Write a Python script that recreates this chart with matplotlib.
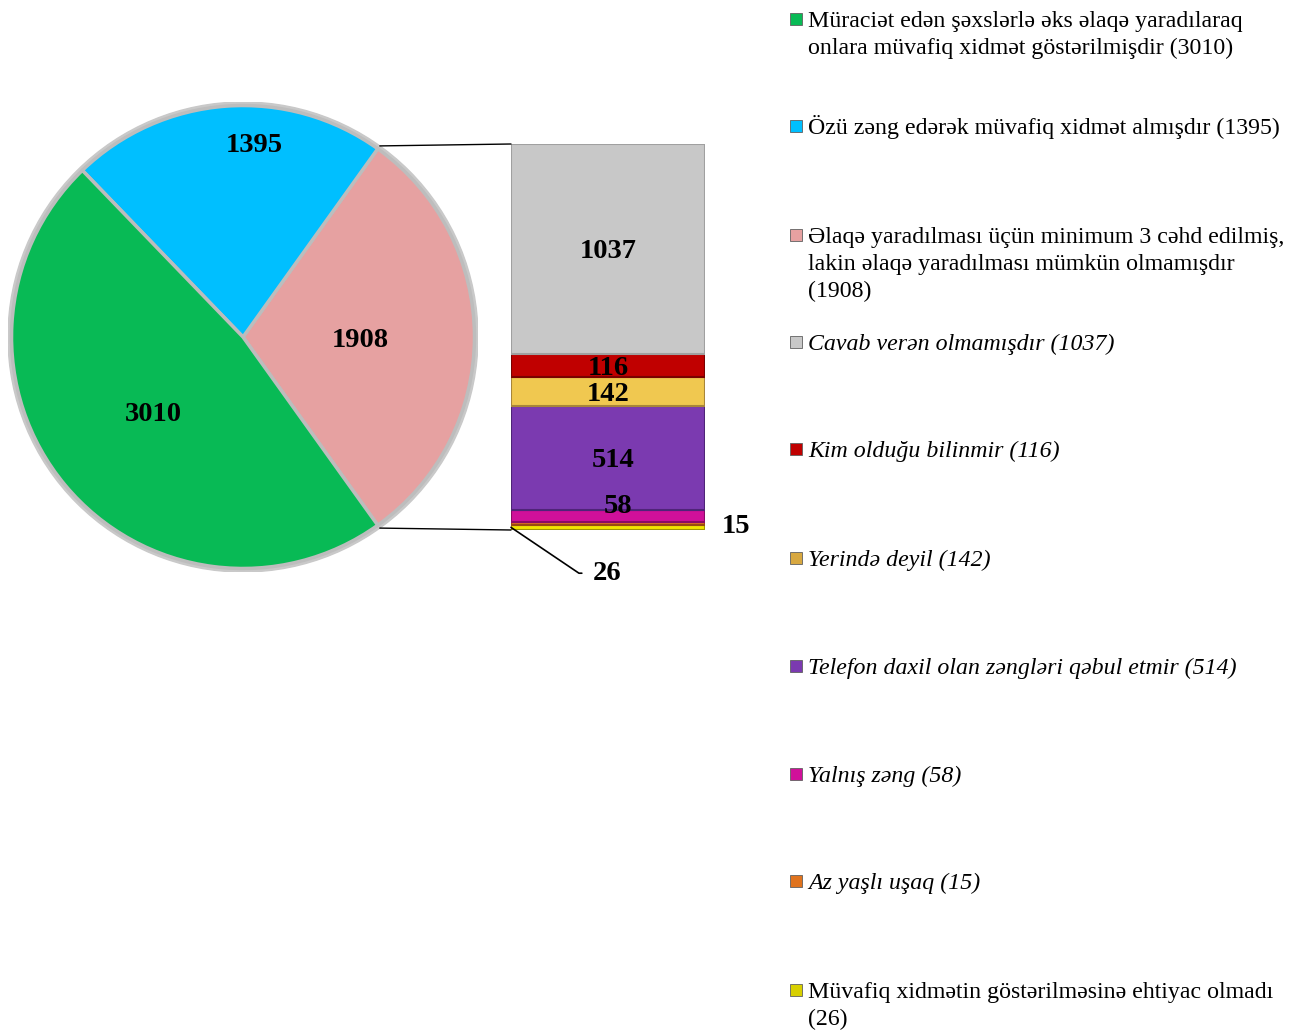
import numpy as np
import matplotlib.pyplot as plt
from matplotlib.patches import ConnectionPatch, Rectangle, Circle

W, H = 1302, 1031
SERIF = ['Liberation Serif', 'DejaVu Serif']

# main pie: the pink slice is split out into the bar
pie_values = [1908, 1395, 3010]
pie_colors = ['#E6A1A1', '#00BFFF', '#08BA55']
pie_label_pos = [(0.50, -0.013), (0.05, 0.815), (-0.38, -0.33)]

# bar breakdown of 1908, listed bottom to top
bar_values = [26, 15, 58, 514, 142, 116, 1037]
bar_colors = ['#F2E600', '#E0731E', '#D0109A', '#7B3AB0', '#F0C850', '#C00000', '#C8C8C8']
bar_edges = ['#A09800', '#9A4A10', '#8A0A66', '#4F2478', '#A8863A', '#7A0000', '#A0A0A0']

legend_labels = [
    'Müraciət edən şəxslərlə əks əlaqə yaradılaraq\nonlara müvafiq xidmət göstərilmişdir (3010)',
    'Özü zəng edərək müvafiq xidmət almışdır (1395)',
    'Əlaqə yaradılması üçün minimum 3 cəhd edilmiş,\nlakin əlaqə yaradılması mümkün olmamışdır\n(1908)',
    'Cavab verən olmamışdır (1037)',
    'Kim olduğu bilinmir (116)',
    'Yerində deyil (142)',
    'Telefon daxil olan zəngləri qəbul etmir (514)',
    'Yalnış zəng (58)',
    'Az yaşlı uşaq (15)',
    'Müvafiq xidmətin göstərilməsinə ehtiyac olmadı\n(26)',
]
legend_italic = [False, False, False, True, True, True, True, True, True, False]
legend_colors = ['#08BA55', '#00BFFF', '#E6A1A1', '#C8C8C8', '#C00000',
                 '#D8A840', '#7B3AB0', '#D0109A', '#E0731E', '#D8D000']
legend_y = [19, 126, 235, 342, 449, 558, 666, 774, 881, 990]


def fx(px):
    return px / W


def fy(py):
    return 1 - py / H


fig = plt.figure(figsize=(W / 100, H / 100), dpi=100)

# pie axes
cx, cy, r = 243, 337, 235
ax_pie = fig.add_axes([fx(cx - r), fy(cy + r), 2 * r / W, 2 * r / H])
total = sum(pie_values)
start = -0.5 * pie_values[0] / total * 360
ax_pie.add_patch(Circle((0, 0), 1.0, color='#C9C9C9', zorder=0))
wedges, _ = ax_pie.pie(pie_values, colors=pie_colors, startangle=start,
                       radius=0.985, counterclock=True,
                       wedgeprops=dict(edgecolor='#BDBDBD', linewidth=2.5))
for (tx, ty), v in zip(pie_label_pos, pie_values):
    ax_pie.text(tx, ty, str(v), ha='center', va='center', fontsize=20.5,
                fontweight='bold', family=SERIF)
ax_pie.set_xlim(-1, 1)
ax_pie.set_ylim(-1, 1)
ax_pie.set_aspect('equal')
ax_pie.axis('off')

# stacked bar axes
bx0, bx1, by_top, by_bot = 511, 705, 144, 530
ax_bar = fig.add_axes([fx(bx0), fy(by_bot), (bx1 - bx0) / W, (by_bot - by_top) / H])
bottoms = np.concatenate([[0], np.cumsum(bar_values)[:-1]])
ax_bar.bar(0.5, bar_values, width=1, bottom=bottoms, color=bar_colors,
           edgecolor=bar_edges, linewidth=1.5)
sub_total = sum(bar_values)
ax_bar.set_xlim(0, 1)
ax_bar.set_ylim(0, sub_total)
ax_bar.axis('off')

lab_kw = dict(fontsize=20.5, fontweight='bold', family=SERIF)
for v, b in zip(bar_values, bottoms):
    mid = b + v / 2
    if v == 26:
        ax_bar.annotate(str(v), xy=(0, mid), xytext=(59, -33), textcoords='offset points',
                        ha='left', va='center',
                        arrowprops=dict(arrowstyle='-', color='black', lw=1.2,
                                        shrinkA=6, shrinkB=0, relpos=(0, 0.5),
                                        connectionstyle='angle,angleA=0,angleB=-34,rad=0'),
                        **lab_kw)
    elif v == 15:
        ax_bar.annotate(str(v), xy=(1, mid), xytext=(22, -2), textcoords='offset points',
                        ha='center', va='center', **lab_kw)
    elif v == 58:
        ax_bar.annotate(str(v), xy=(0.55, mid), xytext=(0, 7), textcoords='offset points',
                        ha='center', va='center', **lab_kw)
    else:
        dx = 4 if v == 514 else 0
        ax_bar.annotate(str(v), xy=(0.5, mid), xytext=(dx, -2), textcoords='offset points',
                        ha='center', va='center', **lab_kw)

# lines joining the split slice to the bar
t1 = np.deg2rad(start + pie_values[0] / total * 360)
t0 = np.deg2rad(start)
for t, yb in [(t1, sub_total), (t0, 0)]:
    con = ConnectionPatch(xyA=(np.cos(t), np.sin(t)), coordsA=ax_pie.transData,
                          xyB=(0, yb), coordsB=ax_bar.transData,
                          color='black', lw=1)
    fig.add_artist(con)

# legend on the right, one text per line so the line gap stays fixed
for lab, it, col, y in zip(legend_labels, legend_italic, legend_colors, legend_y):
    fig.patches.append(Rectangle((fx(790), fy(y + 6)), 12 / W, 12 / H,
                                 transform=fig.transFigure, facecolor=col,
                                 edgecolor='#606060', linewidth=0.6))
    for i, line in enumerate(lab.split('\n')):
        fig.text(fx(808), fy(y + 8 + 27 * i), line, ha='left', va='baseline',
                 fontsize=17.2, family=SERIF, style='italic' if it else 'normal')

fig.savefig('out.png', dpi=100, facecolor='white')
